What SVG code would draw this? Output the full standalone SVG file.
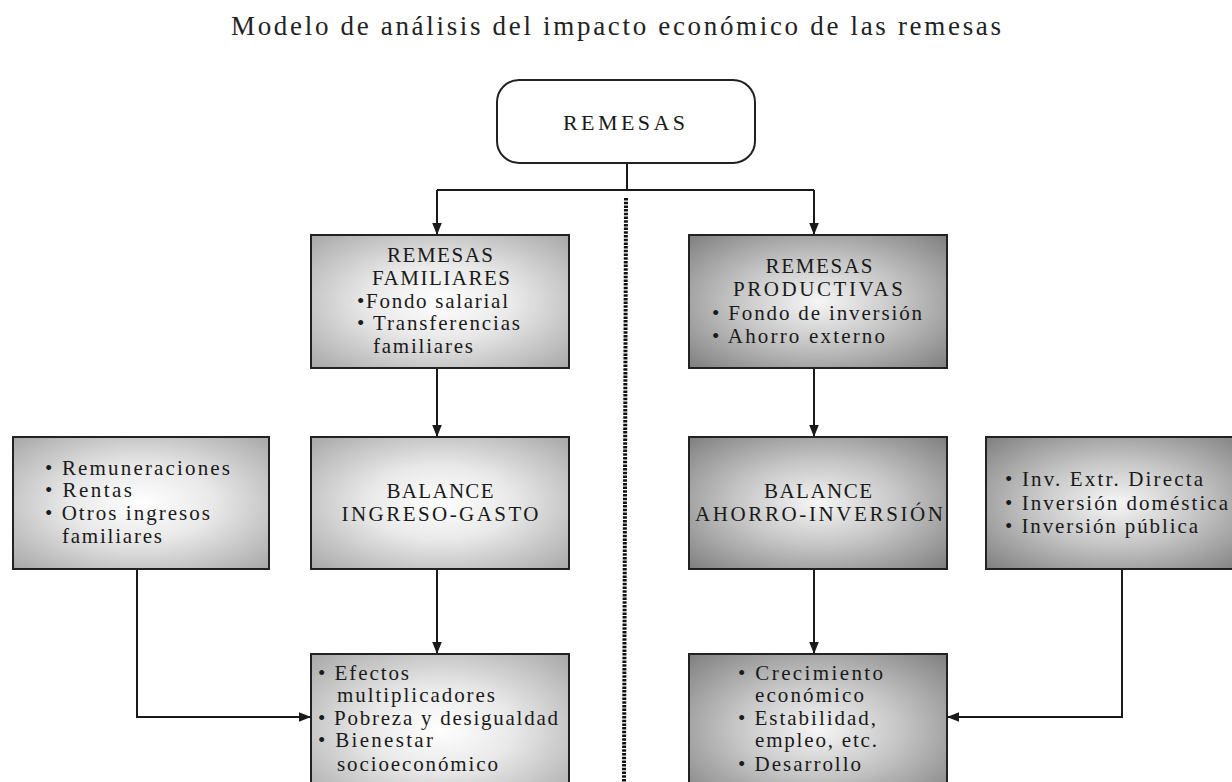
<svg xmlns="http://www.w3.org/2000/svg" width="1232" height="782" viewBox="0 0 1232 782">
<style>
text{font-family:"Liberation Serif","DejaVu Serif",serif;fill:#1a1a1a;font-size:21px}
text.title{font-size:27px;fill:#222}
text.big{font-size:22px}
.c{text-anchor:middle}
.box{stroke:#222;stroke-width:2}
.light{fill:url(#gl)}
.dark{fill:url(#gd)}
.conn line,.conn polyline{stroke:#1a1a1a;stroke-width:2;fill:none}
.conn line.dots{stroke:#111;stroke-width:4;stroke-dasharray:2.5 1.2;fill:none}
</style>
<defs>
<radialGradient id="gl" cx="50%" cy="50%" r="70%">
<stop offset="0" stop-color="#ffffff"/>
<stop offset="0.4" stop-color="#e9e9e9"/>
<stop offset="1" stop-color="#a8a8a8"/>
</radialGradient>
<radialGradient id="gd" cx="50%" cy="50%" r="70%">
<stop offset="0" stop-color="#f6f6f6"/>
<stop offset="0.45" stop-color="#c6c6c6"/>
<stop offset="1" stop-color="#808080"/>
</radialGradient>
<marker id="ah" viewBox="0 0 10 10" refX="10" refY="5" markerWidth="12" markerHeight="12" markerUnits="userSpaceOnUse" orient="auto">
<path d="M0,1 L10,5 L0,9 Z" fill="#1a1a1a"/>
</marker>
</defs>

<text class="title c" x="616" y="35" textLength="770">Modelo de análisis del impacto económico de las remesas</text>

<g class="conn">
<line class="dots" x1="626" y1="198" x2="624" y2="782"/>
<polyline points="627,163 627,190"/>
<polyline points="437,190 814,190"/>
<line x1="437" y1="190" x2="437" y2="235" marker-end="url(#ah)"/>
<line x1="814" y1="190" x2="814" y2="235" marker-end="url(#ah)"/>
<line x1="437" y1="368" x2="437" y2="437" marker-end="url(#ah)"/>
<line x1="814" y1="368" x2="814" y2="437" marker-end="url(#ah)"/>
<line x1="437" y1="569" x2="437" y2="654" marker-end="url(#ah)"/>
<line x1="814" y1="569" x2="814" y2="654" marker-end="url(#ah)"/>
<polyline points="137,569 137,717 311,717" marker-end="url(#ah)"/>
<polyline points="1122,569 1122,717 947,717" marker-end="url(#ah)"/>
</g>

<g id="remesas">
<rect class="box" x="497" y="80" width="258" height="83" rx="22" fill="#fff"/>
<text class="c big" x="624" y="130" textLength="122">REMESAS</text>
</g>

<g id="remesas-familiares">
<rect class="box light" x="311" y="235" width="258" height="133"/>
<text class="c" x="440" y="262" textLength="106">REMESAS</text>
<text class="c" x="441" y="285" textLength="138">FAMILIARES</text>
<text x="357" y="308" textLength="151">•Fondo salarial</text>
<text x="357" y="330" textLength="163">• Transferencias</text>
<text x="373" y="353" textLength="100">familiares</text>
</g>

<g id="remesas-productivas">
<rect class="box dark" x="689" y="235" width="258" height="133"/>
<text class="c" x="819" y="273" textLength="107">REMESAS</text>
<text class="c" x="818" y="296" textLength="170">PRODUCTIVAS</text>
<text x="712" y="320" textLength="210">• Fondo de inversión</text>
<text x="712" y="343" textLength="173">• Ahorro externo</text>
</g>

<g id="ingresos">
<rect class="box light" x="13" y="437" width="256" height="132"/>
<text x="45" y="475" textLength="185">• Remuneraciones</text>
<text x="45" y="497" textLength="87">• Rentas</text>
<text x="45" y="520" textLength="165">• Otros ingresos</text>
<text x="62" y="543" textLength="100">familiares</text>
</g>

<g id="balance-ingreso-gasto">
<rect class="box light" x="311" y="437" width="258" height="132"/>
<text class="c" x="440" y="498" textLength="107">BALANCE</text>
<text class="c" x="440" y="521" textLength="197">INGRESO-GASTO</text>
</g>

<g id="balance-ahorro-inversion">
<rect class="box dark" x="689" y="437" width="258" height="132"/>
<text class="c" x="818" y="498" textLength="108">BALANCE</text>
<text class="c" x="819" y="521" textLength="248">AHORRO-INVERSIÓN</text>
</g>

<g id="inversiones">
<rect class="box dark" x="986" y="437" width="260" height="132"/>
<text x="1005" y="486" textLength="198">• Inv. Extr. Directa</text>
<text x="1005" y="510" textLength="223">• Inversión doméstica</text>
<text x="1005" y="533" textLength="193">• Inversión pública</text>
</g>

<g id="efectos">
<rect class="box light" x="311" y="654" width="258" height="150"/>
<text x="318" y="680" textLength="91">• Efectos</text>
<text x="337" y="702" textLength="158">multiplicadores</text>
<text x="318" y="725" textLength="240">• Pobreza y desigualdad</text>
<text x="318" y="747" textLength="115">• Bienestar</text>
<text x="337" y="771" textLength="161">socioeconómico</text>
</g>

<g id="crecimiento">
<rect class="box dark" x="689" y="654" width="258" height="150"/>
<text x="738" y="680" textLength="145">• Crecimiento</text>
<text x="755" y="702" textLength="109">económico</text>
<text x="738" y="725" textLength="138">• Estabilidad,</text>
<text x="755" y="747" textLength="122">empleo, etc.</text>
<text x="738" y="771" textLength="123">• Desarrollo</text>
</g>
</svg>
